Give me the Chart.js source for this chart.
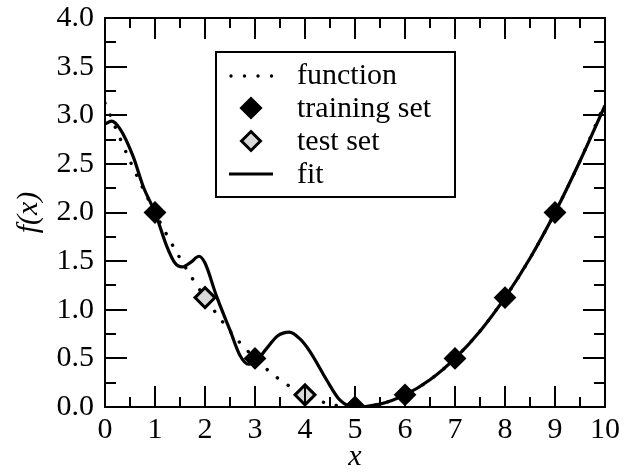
<!DOCTYPE html>
<html>
<head>
<meta charset="utf-8">
<script src="https://cdn.jsdelivr.net/npm/chart.js@4.4.1/dist/chart.umd.min.js"></script>
<style>
  html, body { margin: 0; padding: 0; background: #fff; }
  #wrap { width: 640px; height: 473px; }
</style>
</head>
<body>
<div id="wrap"><canvas id="chart" width="640" height="473"></canvas></div>
<script>
// ----- Data -----
const trainX = [1, 3, 5, 6, 7, 8, 9];
const trainY = [2.0, 0.5, 0.0, 0.125, 0.5, 1.125, 2.0];

const testX = [2, 4];
const testY = [1.125, 0.125];

const funcX = [0, 0.5, 1, 1.5, 2, 2.5, 3, 3.5, 4, 4.5, 5, 5.5, 6, 6.5, 7, 7.5, 8, 8.5, 9, 9.5, 10];
const funcY = [3.125, 2.53, 2.0, 1.53, 1.125, 0.78, 0.5, 0.28, 0.125, 0.03, 0.0, 0.03, 0.125, 0.28, 0.5, 0.78, 1.125, 1.53, 2.0, 2.53, 3.125];

const fitX = [0, 0.13, 0.3, 0.56, 0.77, 1.0, 1.23, 1.4, 1.55, 1.72, 1.88, 2.0, 2.23, 2.5, 2.7, 2.87, 3.0, 3.23, 3.45, 3.69, 3.9, 4.1, 4.43, 4.7, 5.0, 5.5, 6, 6.5, 7, 7.5, 8, 8.5, 9, 9.5, 10];
const fitY = [2.91, 2.94, 2.86, 2.58, 2.26, 2.0, 1.66, 1.48, 1.44, 1.49, 1.55, 1.48, 1.14, 0.79, 0.53, 0.44, 0.46, 0.60, 0.73, 0.77, 0.70, 0.57, 0.28, 0.07, 0.0, 0.03, 0.125, 0.28, 0.5, 0.78, 1.125, 1.53, 2.0, 2.53, 3.10];

const xTicks = [0, 1, 2, 3, 4, 5, 6, 7, 8, 9, 10];
const yTicks = [0, 0.5, 1.0, 1.5, 2.0, 2.5, 3.0, 3.5, 4.0];

const legendLabels = ['function', 'training set', 'test set', 'fit'];

const pts = (xs, ys) => xs.map((x, i) => ({ x: x, y: ys[i] }));

const SERIF = '"Liberation Serif", "DejaVu Serif", serif';
const TEST_FILL = '#d9d9d9';

// ----- Ticks inside the frame + frame -----
const frameTicks = {
    id: 'frameTicks',
    afterDatasetsDraw(chart) {
        const { ctx, chartArea: a, scales: { x, y } } = chart;
        ctx.save();
        ctx.strokeStyle = '#000';
        ctx.lineWidth = 2;
        ctx.beginPath();
        // x ticks (major every 1, minor every 0.5)
        for (let v = 0; v <= 10.001; v += 0.5) {
            const px = Math.round(x.getPixelForValue(v));
            const len = Number.isInteger(v) ? 21 : 10;
            ctx.moveTo(px, a.bottom); ctx.lineTo(px, a.bottom - len);
            ctx.moveTo(px, a.top); ctx.lineTo(px, a.top + len);
        }
        // y ticks (major every 0.5, minor every 0.25)
        for (let v = 0; v <= 4.001; v += 0.25) {
            const py = Math.round(y.getPixelForValue(v));
            const len = (Math.round(v * 4) % 2 === 0) ? 22 : 11;
            ctx.moveTo(a.left, py); ctx.lineTo(a.left + len, py);
            ctx.moveTo(a.right, py); ctx.lineTo(a.right - len, py);
        }
        ctx.stroke();
        ctx.strokeRect(a.left, a.top, a.right - a.left, a.bottom - a.top);
        ctx.restore();
    }
};

function diamond(ctx, cx, cy, r, fill) {
    ctx.beginPath();
    ctx.moveTo(cx - r, cy); ctx.lineTo(cx, cy - r);
    ctx.lineTo(cx + r, cy); ctx.lineTo(cx, cy + r);
    ctx.closePath();
    ctx.fillStyle = fill;
    ctx.fill();
    ctx.lineWidth = 3;
    ctx.strokeStyle = '#000';
    ctx.stroke();
}

// ----- Legend box drawn inside the plot -----
const insideLegend = {
    id: 'insideLegend',
    afterDraw(chart) {
        const ctx = chart.ctx;
        const bx = 216, by = 52, bw = 239, bh = 145;
        ctx.save();
        ctx.fillStyle = '#fff';
        ctx.fillRect(bx, by, bw, bh);
        ctx.strokeStyle = '#000';
        ctx.lineWidth = 2;
        ctx.strokeRect(bx, by, bw, bh);

        const rows = [75, 108, 141, 174];
        // dotted
        ctx.fillStyle = '#000';
        for (let i = 0; i < 4; i++) {
            ctx.beginPath();
            ctx.arc(231 + i * 13.5, rows[0] + 1, 1.7, 0, Math.PI * 2);
            ctx.fill();
        }
        diamond(ctx, 251, rows[1], 9.5, '#000');
        diamond(ctx, 251, rows[2], 9.5, TEST_FILL);
        ctx.beginPath();
        ctx.lineWidth = 3;
        ctx.moveTo(229, rows[3]); ctx.lineTo(273, rows[3]);
        ctx.stroke();

        ctx.fillStyle = '#000';
        ctx.font = '30px ' + SERIF;
        ctx.textBaseline = 'middle';
        legendLabels.forEach((t, i) => ctx.fillText(t, 297, rows[i] + 1));
        ctx.restore();
    }
};

const ctx = document.getElementById('chart').getContext('2d');
new Chart(ctx, {
    type: 'line',
    data: {
        datasets: [
            {
                label: 'training set', data: pts(trainX, trainY), showLine: false, order: 0,
                pointStyle: 'rectRot', pointRadius: 10, pointBackgroundColor: '#000',
                pointBorderColor: '#000', pointBorderWidth: 2
            },
            {
                label: 'test set', data: pts(testX, testY), showLine: false, order: 1,
                pointStyle: 'rectRot', pointRadius: 10, pointBackgroundColor: TEST_FILL,
                pointBorderColor: '#000', pointBorderWidth: 3
            },
            {
                label: 'fit', data: pts(fitX, fitY), order: 2,
                borderColor: '#000', borderWidth: 3.2, pointRadius: 0,
                cubicInterpolationMode: 'monotone', fill: false
            },
            {
                label: 'function', data: pts(funcX, funcY), order: 3,
                borderColor: '#000', borderWidth: 3.4, pointRadius: 0,
                borderDash: [0.1, 13], borderCapStyle: 'round',
                cubicInterpolationMode: 'monotone', fill: false
            }
        ]
    },
    options: {
        responsive: false,
        animation: false,
        devicePixelRatio: 1,
        layout: { autoPadding: false, padding: { left: 0, right: 35, top: 18, bottom: 0 } },
        plugins: { legend: { display: false }, tooltip: { enabled: false } },
        scales: {
            x: {
                type: 'linear', min: 0, max: 10,
                afterBuildTicks: s => { s.ticks = xTicks.map(v => ({ value: v })); },
                afterFit: s => { s.height = 66; s.paddingLeft = 0; s.paddingRight = 0; },
                grid: { display: false, drawTicks: false },
                border: { display: false },
                ticks: { color: '#000', font: { family: SERIF, size: 30 }, padding: 5, maxRotation: 0 },
                title: { display: true, text: 'x', color: '#000', font: { family: SERIF, size: 30, style: 'italic' }, padding: { top: 0, bottom: -2 } }
            },
            y: {
                type: 'linear', min: 0, max: 4,
                afterBuildTicks: s => { s.ticks = yTicks.map(v => ({ value: v })); },
                afterFit: s => { s.width = 105; s.paddingTop = 0; s.paddingBottom = 0; },
                grid: { display: false, drawTicks: false },
                border: { display: false },
                ticks: { color: '#000', font: { family: SERIF, size: 30 }, padding: 11, callback: v => v.toFixed(1) },
                title: { display: true, text: 'f(x)', color: '#000', font: { family: SERIF, size: 30, style: 'italic' }, padding: { top: 11, bottom: 0 } }
            }
        }
    },
    plugins: [frameTicks, insideLegend]
});
</script>
</body>
</html>
